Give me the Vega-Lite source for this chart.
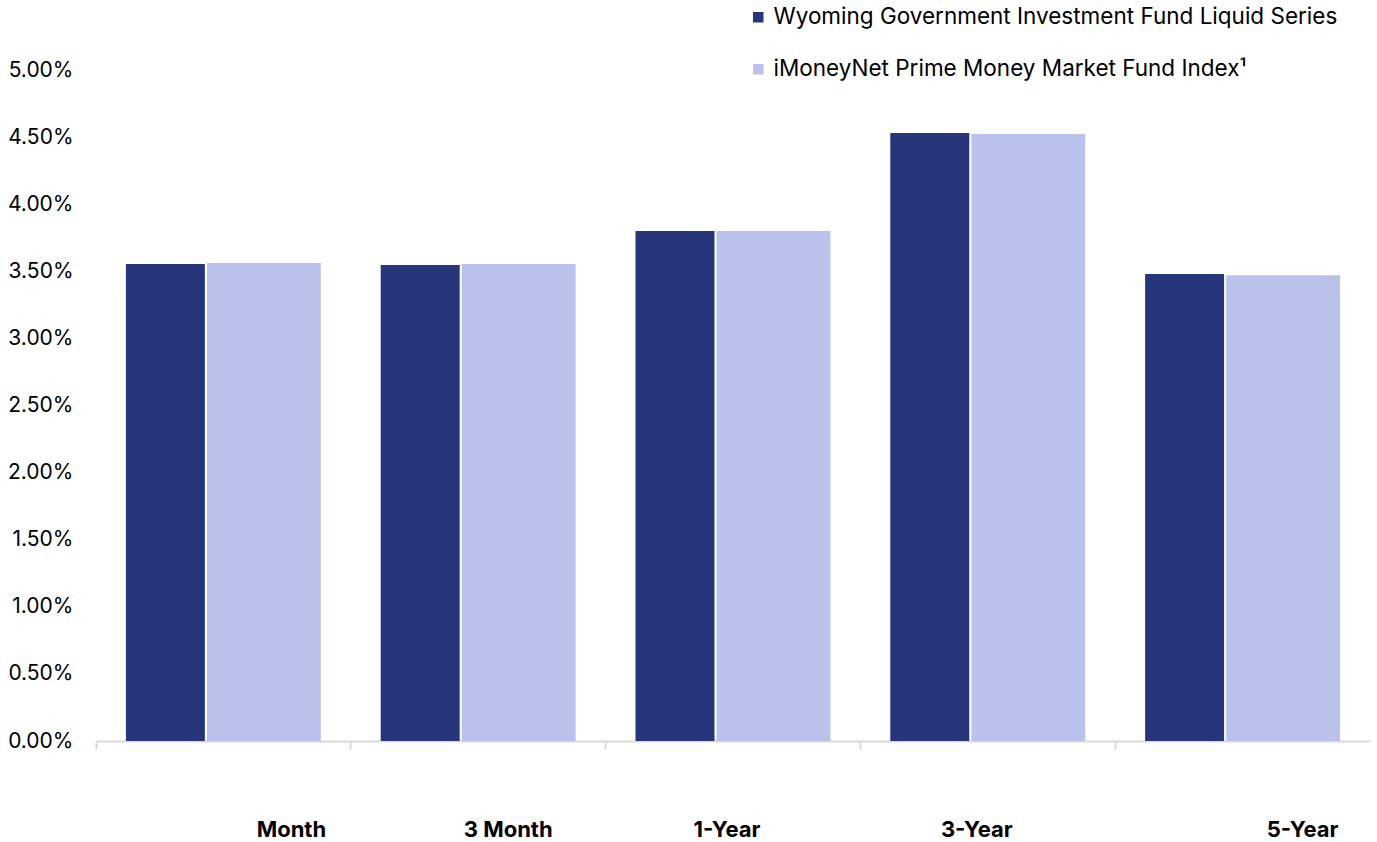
{
  "$schema": "https://vega.github.io/schema/vega-lite/v6.json",
  "autosize": "none",
  "width": 1274,
  "height": 671,
  "padding": {"left": 96, "top": 70, "right": 7, "bottom": 101},
  "background": "white",
  "config": {
    "view": {"stroke": null},
    "font": "Inter"
  },
  "data": {
    "values": [
      {"period": "Month", "series": "Wyoming Government Investment Fund Liquid Series", "value": 0.03554},
      {"period": "Month", "series": "iMoneyNet Prime Money Market Fund Index¹", "value": 0.03562},
      {"period": "3 Month", "series": "Wyoming Government Investment Fund Liquid Series", "value": 0.03547},
      {"period": "3 Month", "series": "iMoneyNet Prime Money Market Fund Index¹", "value": 0.03554},
      {"period": "1-Year", "series": "Wyoming Government Investment Fund Liquid Series", "value": 0.0380},
      {"period": "1-Year", "series": "iMoneyNet Prime Money Market Fund Index¹", "value": 0.0380},
      {"period": "3-Year", "series": "Wyoming Government Investment Fund Liquid Series", "value": 0.04531},
      {"period": "3-Year", "series": "iMoneyNet Prime Money Market Fund Index¹", "value": 0.04523},
      {"period": "5-Year", "series": "Wyoming Government Investment Fund Liquid Series", "value": 0.0348},
      {"period": "5-Year", "series": "iMoneyNet Prime Money Market Fund Index¹", "value": 0.0347}
    ]
  },
  "encoding": {
    "x": {
      "field": "period",
      "type": "nominal",
      "sort": ["Month", "3 Month", "1-Year", "3-Year", "5-Year"],
      "scale": {"paddingInner": 0, "paddingOuter": 0},
      "axis": {
        "title": null,
        "bandPosition": 0,
        "labelAngle": 0,
        "domainColor": "#d9d9d9",
        "domainWidth": 2,
        "tickColor": "#d9d9d9",
        "tickWidth": 2,
        "tickSize": 8,
        "labelFont": "Inter",
        "labelFontSize": 22,
        "labelFontWeight": "bold",
        "labelColor": "#000000",
        "labelPadding": 70,
        "labelBaseline": "top",
        "labelAlign": "center",
        "labelOffset": {
          "condition": [
            {"test": "datum.value === 'Month'", "value": 68},
            {"test": "datum.value === '3 Month'", "value": 30},
            {"test": "datum.value === '1-Year'", "value": -6},
            {"test": "datum.value === '3-Year'", "value": -11}
          ],
          "value": 60
        }
      }
    },
    "y": {
      "field": "value",
      "type": "quantitative",
      "scale": {"domain": [0, 0.05]},
      "axis": {
        "title": null,
        "format": ".2%",
        "values": [0, 0.005, 0.01, 0.015, 0.02, 0.025, 0.03, 0.035, 0.04, 0.045, 0.05],
        "grid": false,
        "domain": false,
        "ticks": false,
        "labelFont": "Inter",
        "labelFontSize": 21,
        "labelColor": "#000000",
        "labelPadding": 23
      }
    },
    "color": {
      "field": "series",
      "type": "nominal",
      "scale": {
        "domain": ["Wyoming Government Investment Fund Liquid Series", "iMoneyNet Prime Money Market Fund Index¹"],
        "range": ["#27367A", "#BAC2EC"]
      },
      "legend": {
        "title": null,
        "orient": "none",
        "legendX": 651,
        "legendY": -64,
        "direction": "vertical",
        "symbolType": "square",
        "symbolSize": 110,
        "symbolStrokeWidth": 0,
        "labelFont": "Inter",
        "labelFontSize": 22.5,
        "labelColor": "#000000",
        "labelOffset": 4,
        "rowPadding": 29,
        "labelLimit": 800
      }
    }
  },
  "layer": [
    {
      "transform": [{"filter": "datum.series === 'Wyoming Government Investment Fund Liquid Series'"}],
      "mark": {"type": "bar", "width": {"band": 0.31}, "xOffset": -58}
    },
    {
      "transform": [{"filter": "datum.series === 'iMoneyNet Prime Money Market Fund Index¹'"}],
      "mark": {"type": "bar", "width": {"band": 0.447}, "xOffset": 40.5}
    }
  ]
}
